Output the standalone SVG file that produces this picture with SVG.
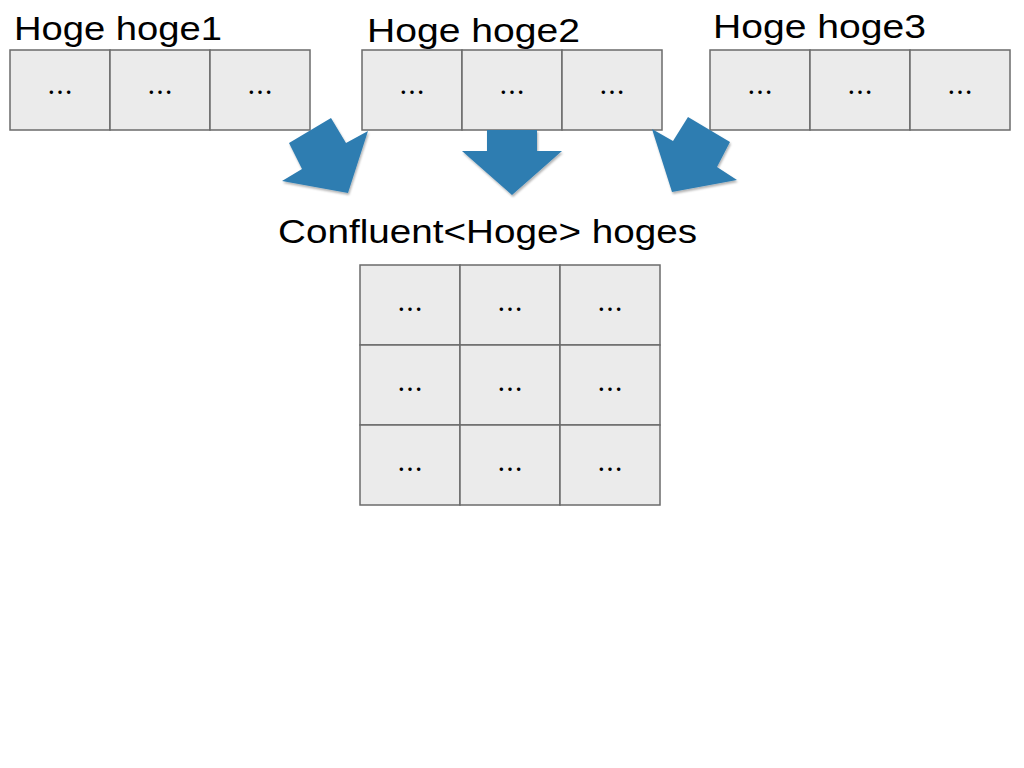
<svg xmlns="http://www.w3.org/2000/svg" width="1024" height="768" viewBox="0 0 1024 768">
<defs>
<style>
.cell{fill:#ebebeb;stroke:#6b6b6b;stroke-width:1.5}
.lbl{font-family:"Liberation Sans","Noto Sans",sans-serif;font-size:34px;fill:#000}
.dots{font-family:"Noto Sans CJK JP",sans-serif;font-size:26px;fill:#000;text-anchor:middle}
.arrow{fill:#2f7db1}
</style>
<filter id="sh" x="-20%" y="-20%" width="140%" height="140%">
<feDropShadow dx="1" dy="2" stdDeviation="1.2" flood-color="#000" flood-opacity="0.3"/>
</filter>
</defs>
<rect width="1024" height="768" fill="#fff"/>
<g id="hoge1">
<text class="lbl" x="14" y="40" textLength="208" lengthAdjust="spacingAndGlyphs">Hoge hoge1</text>
<rect class="cell" x="10" y="50" width="100" height="80"/>
<rect class="cell" x="110" y="50" width="100" height="80"/>
<rect class="cell" x="210" y="50" width="100" height="80"/>
<text class="dots" x="60" y="102">…</text>
<text class="dots" x="160" y="102">…</text>
<text class="dots" x="260" y="102">…</text>
</g>
<g id="hoge2">
<text class="lbl" x="367" y="42" textLength="213" lengthAdjust="spacingAndGlyphs">Hoge hoge2</text>
<rect class="cell" x="362" y="50" width="100" height="80"/>
<rect class="cell" x="462" y="50" width="100" height="80"/>
<rect class="cell" x="562" y="50" width="100" height="80"/>
<text class="dots" x="412" y="102">…</text>
<text class="dots" x="512" y="102">…</text>
<text class="dots" x="612" y="102">…</text>
</g>
<g id="hoge3">
<text class="lbl" x="713" y="38" textLength="213" lengthAdjust="spacingAndGlyphs">Hoge hoge3</text>
<rect class="cell" x="710" y="50" width="100" height="80"/>
<rect class="cell" x="810" y="50" width="100" height="80"/>
<rect class="cell" x="910" y="50" width="100" height="80"/>
<text class="dots" x="760" y="102">…</text>
<text class="dots" x="860" y="102">…</text>
<text class="dots" x="960" y="102">…</text>
</g>
<g id="connectors" filter="url(#sh)">
<polygon class="arrow" points="331,118 346,143 368,131 348,193 282,181 302,169 289,143"/>
<polygon class="arrow" points="487,130 537,130 537,151 562,151 512,195 462,151 487,151"/>
<polygon class="arrow" points="688,117 673,141 652,129 672,192 737,180 717,167 730,142"/>
</g>
<g id="hoges">
<text class="lbl" x="278" y="243" textLength="419" lengthAdjust="spacingAndGlyphs">Confluent&lt;Hoge&gt; hoges</text>
<rect class="cell" x="360" y="265" width="100" height="80"/>
<rect class="cell" x="460" y="265" width="100" height="80"/>
<rect class="cell" x="560" y="265" width="100" height="80"/>
<rect class="cell" x="360" y="345" width="100" height="80"/>
<rect class="cell" x="460" y="345" width="100" height="80"/>
<rect class="cell" x="560" y="345" width="100" height="80"/>
<rect class="cell" x="360" y="425" width="100" height="80"/>
<rect class="cell" x="460" y="425" width="100" height="80"/>
<rect class="cell" x="560" y="425" width="100" height="80"/>
<text class="dots" x="410" y="319">…</text>
<text class="dots" x="510" y="319">…</text>
<text class="dots" x="610" y="319">…</text>
<text class="dots" x="410" y="399">…</text>
<text class="dots" x="510" y="399">…</text>
<text class="dots" x="610" y="399">…</text>
<text class="dots" x="410" y="479">…</text>
<text class="dots" x="510" y="479">…</text>
<text class="dots" x="610" y="479">…</text>
</g>
</svg>
